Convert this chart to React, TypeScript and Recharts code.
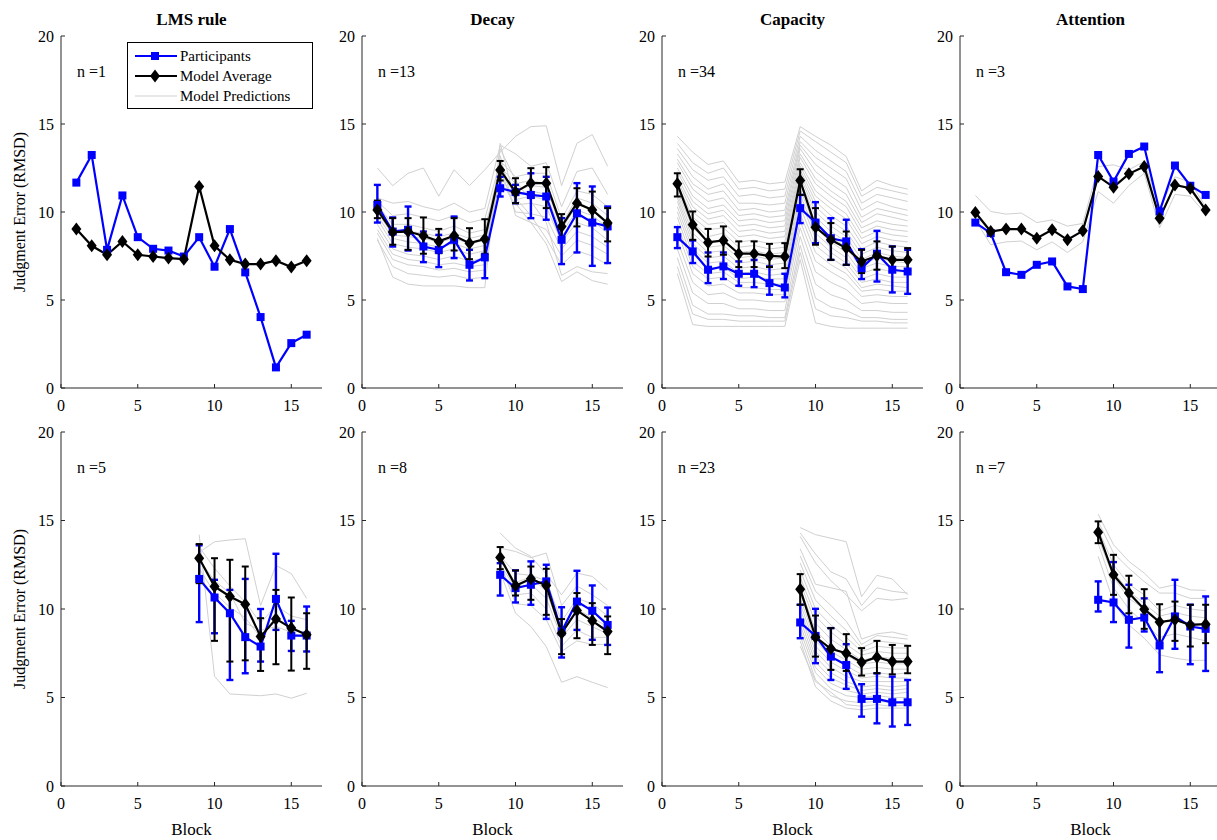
import React from "react"
import { LineChart, Line, XAxis, YAxis, ErrorBar } from "recharts"

const FONT = '"Liberation Serif", "Times New Roman", Times, serif'
const AXIS = "#262626"
const BLUE = "#0000ff"
const GREY = "#d0d0d0"

const allBlocks = [1, 2, 3, 4, 5, 6, 7, 8, 9, 10, 11, 12, 13, 14, 15, 16]
const lateBlocks = [9, 10, 11, 12, 13, 14, 15, 16]
const xTicks = [0, 5, 10, 15]
const yTicks = [0, 5, 10, 15, 20]
const titles = ["LMS rule", "Decay", "Capacity", "Attention"]
const nTop = [1, 13, 34, 3]
const nBottom = [5, 8, 23, 7]

// ---- top row: LMS rule ----
const lmsTopPart = [11.67, 13.24, 7.85, 10.94, 8.57, 7.91, 7.81, 7.47, 8.57, 6.89, 9.03, 6.57, 4.03, 1.17, 2.55, 3.03]
const lmsTopModel = [9.03, 8.08, 7.57, 8.33, 7.57, 7.47, 7.38, 7.32, 11.45, 8.08, 7.28, 7.04, 7.04, 7.23, 6.87, 7.23]

// ---- top row: Decay ----
const decayTopPart = [10.4, 8.89, 8.99, 8.04, 7.85, 8.42, 7.0, 7.42, 11.35, 11.13, 10.97, 10.88, 8.42, 9.93, 9.4, 9.18]
const decayTopPartLo = [9.4, 8.04, 7.81, 7.15, 6.87, 7.38, 6.11, 6.24, 10.88, 10.5, 9.65, 9.56, 7.04, 7.7, 6.94, 7.1]
const decayTopPartHi = [11.54, 9.69, 10.31, 8.89, 8.7, 9.74, 7.85, 8.51, 12.0, 11.54, 12.2, 12.0, 9.65, 11.64, 11.45, 10.31]
const decayTopModel = [10.12, 8.86, 8.89, 8.65, 8.33, 8.65, 8.23, 8.46, 12.39, 11.13, 11.64, 11.64, 9.18, 10.5, 10.12, 9.37]
const decayTopModelLo = [9.65, 8.14, 7.85, 7.63, 7.66, 7.81, 7.32, 7.63, 11.79, 10.5, 10.79, 10.22, 8.51, 9.18, 9.37, 8.33]
const decayTopModelHi = [10.65, 9.65, 9.65, 9.69, 9.04, 9.65, 9.08, 9.59, 12.9, 11.92, 12.49, 12.55, 9.88, 11.35, 11.16, 10.22]
const decayTopPreds = [
  [12.5, 11.5, 12.2, 12.5, 10.9, 12.4, 11.5, 12.4, 13.4, 14.3, 14.85, 14.9, 11.5, 13.9, 14.4, 12.6],
  [10.8, 10.5, 10.6, 10.3, 10.1, 10.5, 10.0, 10.2, 13.8, 13.3, 12.6, 12.8, 10.3, 12.3, 12.5, 11.0],
  [10.6, 9.8, 9.9, 9.7, 9.5, 9.8, 9.4, 9.6, 12.9, 12.0, 12.2, 12.2, 9.6, 11.2, 11.0, 10.3],
  [10.4, 9.3, 9.3, 9.1, 8.9, 9.2, 8.8, 9.0, 12.6, 11.6, 11.8, 11.6, 9.3, 10.8, 10.5, 9.8],
  [10.2, 9.0, 8.9, 8.8, 8.6, 8.8, 8.5, 8.7, 12.4, 11.2, 11.5, 11.4, 9.0, 10.4, 10.2, 9.4],
  [10.0, 8.7, 8.6, 8.5, 8.3, 8.5, 8.2, 8.4, 12.2, 11.0, 11.2, 11.0, 8.8, 10.1, 9.8, 9.1],
  [9.8, 8.5, 8.3, 8.2, 8.0, 8.2, 7.9, 8.1, 12.0, 10.7, 10.9, 10.7, 8.6, 9.8, 9.5, 8.8],
  [9.6, 8.2, 8.0, 7.9, 7.7, 7.9, 7.6, 7.8, 11.8, 10.4, 10.5, 10.3, 8.3, 9.4, 9.1, 8.4],
  [9.3, 7.9, 7.6, 7.5, 7.3, 7.5, 7.2, 7.4, 12.5, 10.0, 9.9, 9.7, 7.9, 8.9, 8.6, 8.0],
  [9.0, 7.6, 7.3, 7.2, 7.0, 7.1, 6.9, 7.0, 13.2, 9.8, 9.4, 9.0, 7.5, 8.4, 8.1, 7.6],
  [8.8, 7.3, 7.0, 6.9, 6.7, 6.8, 6.6, 6.7, 12.8, 10.8, 9.8, 8.5, 7.0, 7.8, 7.5, 7.0],
  [8.4, 6.9, 6.5, 6.4, 6.3, 6.4, 6.2, 6.3, 13.6, 11.8, 10.6, 9.4, 6.4, 6.9, 6.6, 6.5],
  [8.5, 6.3, 5.9, 5.8, 5.8, 5.8, 5.7, 5.7, 13.9, 10.5, 9.4, 8.2, 6.05, 6.6, 6.1, 5.9],
]

// ---- top row: Capacity ----
const capTopPart = [8.57, 7.76, 6.72, 6.91, 6.49, 6.49, 5.96, 5.71, 10.22, 9.4, 8.51, 8.33, 6.81, 7.63, 6.72, 6.62]
const capTopPartLo = [7.95, 7.1, 5.96, 6.19, 5.81, 5.73, 5.3, 5.15, 9.37, 8.23, 7.28, 7.0, 6.19, 6.05, 5.43, 5.35]
const capTopPartHi = [9.14, 8.38, 7.7, 7.7, 7.19, 7.28, 6.91, 6.49, 10.97, 10.56, 9.65, 9.56, 7.89, 8.93, 8.04, 7.85]
const capTopModel = [11.6, 9.27, 8.27, 8.38, 7.63, 7.63, 7.51, 7.47, 11.79, 9.14, 8.42, 7.95, 7.19, 7.51, 7.28, 7.28]
const capTopModelLo = [10.88, 8.42, 7.47, 7.57, 6.87, 6.87, 6.87, 6.81, 10.97, 8.14, 7.28, 7.0, 6.53, 6.72, 6.62, 6.68]
const capTopModelHi = [12.2, 10.03, 9.04, 9.18, 8.33, 8.33, 8.19, 8.23, 12.43, 10.22, 9.37, 8.89, 7.85, 8.33, 8.04, 7.95]
const capTopPreds = [
  [14.3, 13.4, 12.7, 12.9, 11.7, 11.8, 11.6, 11.7, 14.85, 14.3, 13.8, 13.15, 11.2, 11.8, 11.5, 11.3],
  [13.9, 12.8, 12.2, 12.5, 11.3, 11.4, 11.2, 11.3, 14.6, 14.0, 13.4, 12.8, 10.9, 11.4, 11.2, 11.0],
  [13.6, 12.4, 11.8, 12.0, 10.9, 11.0, 10.8, 10.9, 14.3, 13.5, 12.9, 12.3, 10.5, 11.0, 10.8, 10.6],
  [13.3, 12.0, 11.3, 11.6, 10.5, 10.5, 10.4, 10.5, 14.0, 13.1, 12.5, 11.9, 10.1, 10.6, 10.3, 10.1],
  [13.0, 11.6, 11.0, 11.2, 10.1, 10.2, 10.0, 10.1, 13.8, 12.7, 12.0, 11.4, 9.7, 10.2, 10.0, 9.8],
  [12.8, 11.3, 10.6, 10.8, 9.8, 9.9, 9.7, 9.8, 13.6, 12.3, 11.6, 11.0, 9.4, 9.9, 9.7, 9.5],
  [12.5, 10.9, 10.2, 10.4, 9.5, 9.6, 9.4, 9.5, 13.3, 11.9, 11.2, 10.6, 9.1, 9.5, 9.3, 9.2],
  [12.3, 10.6, 9.9, 10.1, 9.2, 9.3, 9.1, 9.2, 13.1, 11.6, 10.9, 10.3, 8.8, 9.2, 9.0, 8.9],
  [12.0, 10.3, 9.6, 9.8, 8.9, 9.0, 8.8, 8.9, 12.8, 11.2, 10.5, 9.9, 8.5, 8.9, 8.7, 8.6],
  [11.8, 10.0, 9.3, 9.4, 8.6, 8.7, 8.5, 8.6, 12.6, 10.9, 10.2, 9.6, 8.2, 8.6, 8.4, 8.3],
  [11.6, 9.7, 9.0, 9.1, 8.3, 8.4, 8.2, 8.3, 12.4, 10.6, 9.8, 9.2, 7.9, 8.3, 8.1, 8.0],
  [11.4, 9.4, 8.6, 8.8, 8.0, 8.1, 7.9, 8.0, 12.2, 10.3, 9.5, 8.9, 7.6, 8.0, 7.8, 7.7],
  [11.2, 9.1, 8.3, 8.4, 7.7, 7.8, 7.6, 7.7, 12.0, 10.0, 9.2, 8.6, 7.3, 7.7, 7.5, 7.4],
  [11.0, 8.8, 8.0, 8.1, 7.4, 7.5, 7.3, 7.4, 11.8, 9.7, 8.9, 8.3, 7.0, 7.4, 7.2, 7.1],
  [10.8, 8.5, 7.7, 7.8, 7.1, 7.2, 7.0, 7.1, 11.6, 9.4, 8.6, 8.0, 6.8, 7.1, 6.9, 6.9],
  [10.6, 8.2, 7.4, 7.5, 6.8, 6.9, 6.7, 6.8, 11.3, 9.1, 8.3, 7.7, 6.5, 6.8, 6.6, 6.6],
  [10.3, 7.9, 7.1, 7.2, 6.5, 6.6, 6.4, 6.5, 11.0, 8.8, 8.0, 7.4, 6.2, 6.5, 6.3, 6.3],
  [10.0, 7.6, 6.8, 6.9, 6.2, 6.3, 6.2, 6.2, 10.7, 8.5, 7.7, 7.1, 6.0, 6.2, 6.0, 6.0],
  [9.7, 7.2, 6.5, 6.6, 6.0, 6.0, 5.9, 5.9, 10.3, 8.1, 7.4, 6.8, 5.7, 5.9, 5.8, 5.7],
  [9.3, 6.9, 6.2, 6.3, 5.7, 5.7, 5.6, 5.6, 9.9, 7.7, 7.0, 6.5, 5.5, 5.6, 5.5, 5.5],
  [8.9, 6.5, 5.8, 5.9, 5.4, 5.4, 5.3, 5.3, 9.5, 7.2, 6.6, 6.1, 5.2, 5.3, 5.2, 5.2],
  [8.4, 6.0, 5.3, 5.4, 5.0, 5.0, 4.9, 4.9, 9.1, 6.6, 6.0, 5.6, 4.8, 4.9, 4.8, 4.8],
  [7.9, 5.4, 4.8, 4.8, 4.5, 4.5, 4.4, 4.4, 8.6, 5.9, 5.3, 5.0, 4.4, 4.4, 4.3, 4.3],
  [7.4, 4.7, 4.2, 4.2, 4.1, 4.1, 4.0, 4.0, 8.1, 5.1, 4.6, 4.4, 4.0, 4.0, 3.9, 3.9],
  [6.9, 4.2, 3.9, 3.9, 3.8, 3.8, 3.8, 3.8, 7.7, 4.5, 4.1, 4.0, 3.8, 3.8, 3.7, 3.7],
  [6.5, 3.6, 3.5, 3.5, 3.5, 3.5, 3.5, 3.5, 7.3, 3.7, 3.5, 3.4, 3.4, 3.4, 3.4, 3.4],
]

// ---- top row: Attention ----
const attnTopPart = [9.4, 8.8, 6.58, 6.43, 7.0, 7.19, 5.77, 5.62, 13.24, 11.73, 13.3, 13.72, 10.03, 12.64, 11.49, 10.97]
const attnTopModel = [9.97, 8.89, 9.03, 9.03, 8.51, 8.99, 8.42, 8.93, 12.02, 11.41, 12.17, 12.58, 9.65, 11.54, 11.35, 10.12]
const attnTopPreds = [
  [10.94, 10.03, 9.88, 9.94, 9.4, 9.55, 9.2, 9.35, 12.58, 12.68, 12.4, 12.87, 10.2, 12.0, 11.7, 10.3],
  [9.97, 8.9, 9.0, 9.05, 8.5, 9.0, 8.4, 8.95, 12.0, 11.4, 12.15, 12.6, 9.6, 11.55, 11.35, 10.1],
  [9.55, 8.14, 8.3, 8.35, 7.85, 8.3, 7.7, 8.3, 11.16, 10.5, 11.5, 12.2, 9.1, 11.0, 10.9, 9.9],
]

// ---- bottom row: LMS rule ----
const lmsBotPart = [11.7, 10.65, 9.76, 8.41, 7.88, 10.57, 8.5, 8.5]
const lmsBotPartLo = [9.26, 8.63, 5.99, 6.37, 7.03, 8.82, 7.63, 7.6]
const lmsBotPartHi = [13.6, 11.65, 11.08, 11.7, 10.0, 13.12, 9.33, 10.14]
const lmsBotModel = [12.87, 11.27, 10.71, 10.27, 8.44, 9.44, 8.92, 8.54]
const lmsBotModelLo = [11.46, 8.2, 7.03, 7.1, 6.5, 6.88, 6.52, 6.62]
const lmsBotModelHi = [13.67, 12.87, 12.78, 12.4, 9.48, 11.08, 10.65, 9.76]
const lmsBotPreds = [
  [13.2, 13.8, 13.9, 13.97, 10.2, 12.46, 12.0, 10.6],
  [13.5, 12.3, 11.3, 10.4, 9.2, 10.2, 9.6, 9.4],
  [12.3, 10.9, 10.1, 9.5, 8.4, 9.5, 8.9, 8.6],
  [12.8, 11.6, 10.9, 9.2, 8.8, 9.0, 8.7, 8.3],
  [14.2, 6.2, 5.2, 5.15, 5.1, 5.2, 4.96, 5.24],
]

// ---- bottom row: Decay ----
const decayBotPart = [11.93, 11.18, 11.37, 11.56, 8.73, 10.42, 9.9, 9.1]
const decayBotPartLo = [10.76, 10.37, 10.24, 9.44, 7.26, 8.82, 8.26, 7.97]
const decayBotPartHi = [12.59, 12.18, 12.69, 12.5, 10.1, 12.16, 11.33, 10.08]
const decayBotModel = [12.91, 11.31, 11.71, 11.33, 8.63, 9.92, 9.33, 8.73]
const decayBotModelLo = [12.25, 10.76, 10.52, 9.67, 7.45, 8.35, 7.97, 7.45]
const decayBotModelHi = [13.5, 12.18, 12.4, 12.27, 9.43, 10.9, 10.33, 9.58]
const decayBotPreds = [
  [14.29, 13.44, 12.97, 11.97, 10.8, 12.03, 11.84, 11.08],
  [13.44, 13.25, 12.9, 13.16, 10.2, 11.3, 10.8, 10.2],
  [13.0, 12.0, 11.9, 11.6, 9.3, 10.6, 10.3, 9.6],
  [12.7, 11.5, 11.8, 11.0, 8.7, 10.0, 9.5, 9.0],
  [12.5, 11.2, 11.4, 10.6, 8.4, 9.4, 9.0, 8.6],
  [12.3, 10.8, 10.9, 10.0, 7.9, 8.8, 8.4, 8.4],
  [12.6, 10.3, 10.2, 9.4, 7.6, 8.2, 8.0, 8.0],
  [12.1, 9.76, 9.01, 7.88, 5.86, 6.18, 5.86, 5.56],
]

// ---- bottom row: Capacity ----
const capBotPart = [9.24, 8.48, 7.31, 6.84, 4.92, 4.92, 4.73, 4.73]
const capBotPartLo = [8.35, 6.94, 5.99, 5.49, 3.92, 3.54, 3.36, 3.45]
const capBotPartHi = [10.24, 10.01, 8.92, 8.01, 5.75, 6.37, 6.18, 5.99]
const capBotModel = [11.12, 8.41, 7.75, 7.5, 6.99, 7.28, 7.03, 7.03]
const capBotModelLo = [10.24, 7.31, 6.56, 6.5, 6.24, 6.37, 6.31, 6.37]
const capBotModelHi = [11.97, 9.63, 8.92, 8.58, 7.79, 8.2, 7.97, 7.92]
const capBotPreds = [
  [14.6, 14.2, 14.0, 13.8, 10.7, 11.9, 11.7, 10.8],
  [14.3, 13.1, 12.1, 11.7, 10.2, 11.2, 11.0, 10.9],
  [14.1, 12.6, 11.6, 10.8, 9.9, 10.6, 10.5, 10.6],
  [13.4, 11.4, 11.2, 11.0, 8.3, 8.6, 8.7, 8.5],
  [13.0, 11.0, 10.2, 9.3, 8.0, 8.5, 8.4, 8.3],
  [12.6, 10.5, 9.6, 8.8, 7.8, 8.2, 8.1, 8.0],
  [12.2, 10.0, 9.1, 8.4, 7.6, 7.9, 7.8, 7.8],
  [11.8, 9.6, 8.7, 8.0, 7.4, 7.6, 7.5, 7.5],
  [11.5, 9.2, 8.3, 7.7, 7.1, 7.3, 7.2, 7.2],
  [11.2, 8.8, 7.9, 7.4, 6.9, 7.0, 6.9, 6.9],
  [10.9, 8.5, 7.6, 7.1, 6.6, 6.7, 6.6, 6.6],
  [10.6, 8.2, 7.3, 6.8, 6.3, 6.4, 6.3, 6.4],
  [10.3, 7.9, 7.0, 6.5, 6.1, 6.2, 6.1, 6.1],
  [10.0, 7.6, 6.7, 6.2, 5.9, 5.9, 5.9, 5.9],
  [9.7, 7.3, 6.4, 5.9, 5.6, 5.7, 5.6, 5.7],
  [9.4, 7.0, 6.1, 5.7, 5.4, 5.5, 5.4, 5.5],
  [9.1, 6.7, 5.8, 5.4, 5.2, 5.3, 5.2, 5.3],
  [8.8, 6.4, 5.5, 5.1, 5.0, 5.1, 5.0, 5.0],
  [8.5, 6.0, 5.1, 4.8, 4.7, 4.8, 4.7, 4.8],
  [8.2, 5.6, 4.8, 4.4, 4.3, 4.4, 4.4, 4.4],
  [7.9, 5.9, 5.3, 4.6, 4.5, 4.6, 4.5, 4.6],
]

// ---- bottom row: Attention ----
const attnBotPart = [10.52, 10.37, 9.39, 9.52, 7.94, 9.58, 9.01, 8.88]
const attnBotPartLo = [9.86, 9.26, 7.82, 8.73, 6.43, 7.75, 6.88, 6.5]
const attnBotPartHi = [11.56, 12.65, 11.37, 10.6, 9.29, 11.65, 10.24, 10.71]
const attnBotModel = [14.34, 11.93, 10.9, 9.99, 9.26, 9.39, 9.1, 9.14]
const attnBotModelLo = [13.72, 10.8, 9.76, 8.88, 8.07, 8.2, 7.88, 8.07]
const attnBotModelHi = [14.95, 13.06, 11.88, 11.12, 10.27, 10.42, 10.24, 10.24]
const attnBotPreds = [
  [15.36, 13.63, 12.69, 12.03, 11.18, 11.37, 11.08, 11.05],
  [14.95, 13.16, 12.3, 11.55, 10.9, 10.9, 10.6, 10.6],
  [14.5, 12.5, 11.4, 10.8, 9.9, 10.2, 10.0, 9.9],
  [14.0, 11.8, 10.6, 10.0, 9.2, 9.4, 9.2, 9.1],
  [14.2, 12.1, 11.0, 10.3, 9.6, 9.8, 9.6, 9.5],
  [13.7, 11.2, 10.0, 9.2, 8.4, 8.6, 8.4, 8.2],
  [12.97, 10.4, 9.1, 8.35, 7.41, 7.22, 7.1, 7.1],
]

// layout (pixels)
const colX = [61, 362, 662, 960]
const PLOT_W = 261
const rowTop = [36, 432]
const rowH = [352, 354]
const ML = 60
const MT = 30

const SquareDot = (props: any) => {
  const { cx, cy, index } = props
  if (cx == null || cy == null) return <g key={index} />
  return <rect key={index} x={cx - 4} y={cy - 4} width={8} height={8} fill={BLUE} />
}

const DiamondDot = (props: any) => {
  const { cx, cy, index } = props
  if (cx == null || cy == null) return <g key={index} />
  return (
    <polygon
      key={index}
      points={`${cx},${cy - 6.5} ${cx + 5},${cy} ${cx},${cy + 6.5} ${cx - 5},${cy}`}
      fill="#000"
    />
  )
}

const XTick = (props: any) => {
  const { x, y, payload } = props
  return (
    <g>
      <line x1={x} y1={y} x2={x} y2={y - 4} stroke={AXIS} />
      <text x={x} y={y + 23} textAnchor="middle" style={{ fontFamily: FONT, fontSize: 16 }} fill="#000">
        {payload.value}
      </text>
    </g>
  )
}

const YTick = (props: any) => {
  const { x, y, payload } = props
  return (
    <g>
      <line x1={x} y1={y} x2={x + 4} y2={y} stroke={AXIS} />
      <text x={x - 7} y={y + 5.5} textAnchor="end" style={{ fontFamily: FONT, fontSize: 16 }} fill="#000">
        {payload.value}
      </text>
    </g>
  )
}

interface PanelProps {
  blocks: number[]
  part: number[]
  partLo?: number[]
  partHi?: number[]
  model: number[]
  modelLo?: number[]
  modelHi?: number[]
  preds: number[][]
  col: number
  row: number
}

function Panel({ blocks, part, partLo, partHi, model, modelLo, modelHi, preds, col, row }: PanelProps) {
  const rows = blocks.map((b, i) => {
    const r: any = { block: b, p: part[i], m: model[i] }
    if (partLo && partHi) r.pe = [part[i] - partLo[i], partHi[i] - part[i]]
    if (modelLo && modelHi) r.me = [model[i] - modelLo[i], modelHi[i] - model[i]]
    preds.forEach((g, k) => {
      r["g" + k] = g[i]
    })
    return r
  })
  const w = ML + PLOT_W + 10
  const h = MT + rowH[row] + 40
  return (
    <div style={{ position: "absolute", left: colX[col] - ML, top: rowTop[row] - MT }}>
      <LineChart width={w} height={h} data={rows} margin={{ top: MT, right: 10, bottom: 0, left: 0 }}>
        <XAxis
          type="number"
          dataKey="block"
          domain={[0, 17]}
          ticks={xTicks}
          interval={0}
          height={40}
          tickSize={0}
          tickMargin={0}
          tickLine={false}
          axisLine={{ stroke: AXIS }}
          tick={<XTick />}
        />
        <YAxis
          type="number"
          domain={[0, 20]}
          ticks={yTicks}
          interval={0}
          width={ML}
          tickSize={0}
          tickMargin={0}
          tickLine={false}
          axisLine={{ stroke: AXIS }}
          tick={<YTick />}
        />
        {preds.map((_, k) => (
          <Line
            key={"g" + k}
            dataKey={"g" + k}
            stroke={GREY}
            strokeWidth={1}
            dot={false}
            activeDot={false}
            isAnimationActive={false}
          />
        ))}
        <Line dataKey="p" stroke={BLUE} strokeWidth={2.2} dot={SquareDot} activeDot={false} isAnimationActive={false}>
          {partLo && <ErrorBar dataKey="pe" direction="y" width={3.5} stroke={BLUE} strokeWidth={2.4} />}
        </Line>
        <Line dataKey="m" stroke="#000" strokeWidth={2.2} dot={DiamondDot} activeDot={false} isAnimationActive={false}>
          {modelLo && <ErrorBar dataKey="me" direction="y" width={3.5} stroke="#000" strokeWidth={2} />}
        </Line>
      </LineChart>
    </div>
  )
}

export default function App() {
  const txt = { style: { fontFamily: FONT }, fill: "#000" }
  return (
    <div
      style={{
        position: "absolute",
        left: 0,
        top: 0,
        width: 1217,
        height: 840,
        background: "#fff",
        overflow: "hidden",
        fontFamily: FONT,
      }}
    >
      <Panel blocks={allBlocks} part={lmsTopPart} model={lmsTopModel} preds={[]} col={0} row={0} />
      <Panel
        blocks={allBlocks}
        part={decayTopPart}
        partLo={decayTopPartLo}
        partHi={decayTopPartHi}
        model={decayTopModel}
        modelLo={decayTopModelLo}
        modelHi={decayTopModelHi}
        preds={decayTopPreds}
        col={1}
        row={0}
      />
      <Panel
        blocks={allBlocks}
        part={capTopPart}
        partLo={capTopPartLo}
        partHi={capTopPartHi}
        model={capTopModel}
        modelLo={capTopModelLo}
        modelHi={capTopModelHi}
        preds={capTopPreds}
        col={2}
        row={0}
      />
      <Panel blocks={allBlocks} part={attnTopPart} model={attnTopModel} preds={attnTopPreds} col={3} row={0} />
      <Panel
        blocks={lateBlocks}
        part={lmsBotPart}
        partLo={lmsBotPartLo}
        partHi={lmsBotPartHi}
        model={lmsBotModel}
        modelLo={lmsBotModelLo}
        modelHi={lmsBotModelHi}
        preds={lmsBotPreds}
        col={0}
        row={1}
      />
      <Panel
        blocks={lateBlocks}
        part={decayBotPart}
        partLo={decayBotPartLo}
        partHi={decayBotPartHi}
        model={decayBotModel}
        modelLo={decayBotModelLo}
        modelHi={decayBotModelHi}
        preds={decayBotPreds}
        col={1}
        row={1}
      />
      <Panel
        blocks={lateBlocks}
        part={capBotPart}
        partLo={capBotPartLo}
        partHi={capBotPartHi}
        model={capBotModel}
        modelLo={capBotModelLo}
        modelHi={capBotModelHi}
        preds={capBotPreds}
        col={2}
        row={1}
      />
      <Panel
        blocks={lateBlocks}
        part={attnBotPart}
        partLo={attnBotPartLo}
        partHi={attnBotPartHi}
        model={attnBotModel}
        modelLo={attnBotModelLo}
        modelHi={attnBotModelHi}
        preds={attnBotPreds}
        col={3}
        row={1}
      />

      {/* text and legend overlay */}
      <svg
        width={1217}
        height={840}
        style={{ position: "absolute", left: 0, top: 0, pointerEvents: "none" }}
      >
        {titles.map((t, i) => (
          <text key={t} x={colX[i] + PLOT_W / 2} y={25} textAnchor="middle" fontSize={17} fontWeight="bold" {...txt}>
            {t}
          </text>
        ))}
        {nTop.map((n, i) => (
          <text key={"nt" + i} x={colX[i] + 16} y={rowTop[0] + 41} fontSize={16} {...txt}>
            {"n =" + n}
          </text>
        ))}
        {nBottom.map((n, i) => (
          <text key={"nb" + i} x={colX[i] + 16} y={rowTop[1] + 41} fontSize={16} {...txt}>
            {"n =" + n}
          </text>
        ))}
        {[0, 1].map((r) => {
          const cy = rowTop[r] + rowH[r] / 2
          return (
            <text
              key={"yl" + r}
              x={0}
              y={0}
              transform={`translate(25, ${cy}) rotate(-90)`}
              textAnchor="middle"
              fontSize={16}
              {...txt}
            >
              Judgment Error (RMSD)
            </text>
          )
        })}
        {colX.map((x, i) => (
          <text key={"bl" + i} x={x + PLOT_W / 2} y={835} textAnchor="middle" fontSize={17} {...txt}>
            Block
          </text>
        ))}

        {/* legend */}
        <rect x={127.5} y={42.5} width={185} height={66} fill="#fff" stroke="#000" strokeWidth={1} />
        <line x1={135} y1={56} x2={177} y2={56} stroke={BLUE} strokeWidth={2.2} />
        <rect x={151} y={52} width={8} height={8} fill={BLUE} />
        <text x={180} y={61} fontSize={15} {...txt}>
          Participants
        </text>
        <line x1={135} y1={76} x2={177} y2={76} stroke="#000" strokeWidth={2.2} />
        <polygon points="155,69.5 160,76 155,82.5 150,76" fill="#000" />
        <text x={180} y={81} fontSize={15} {...txt}>
          Model Average
        </text>
        <line x1={135} y1={96} x2={177} y2={96} stroke={GREY} strokeWidth={1} />
        <text x={180} y={101} fontSize={15} {...txt}>
          Model Predictions
        </text>
      </svg>
    </div>
  )
}
